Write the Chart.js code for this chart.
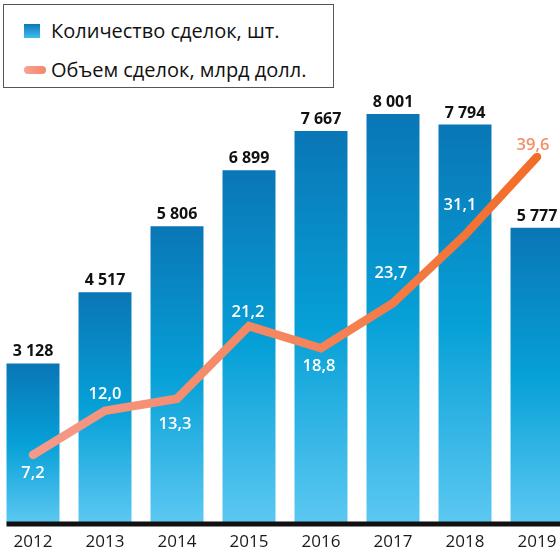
<!DOCTYPE html>
<html>
<head>
<meta charset="utf-8">
<script src="https://cdn.jsdelivr.net/npm/chart.js@4.4.1/dist/chart.umd.min.js"></script>
<style>
  html, body { margin: 0; padding: 0; background: #fff; }
  body { width: 560px; height: 552px; overflow: hidden; position: relative; font-family: "Open Sans", sans-serif; }
  #wrap { position: absolute; left: -3px; top: 0; width: 576px; height: 552px; }
  #legend { position: absolute; left: 3px; top: 4px; width: 329px; height: 82px;
            border: 1.5px solid #555; background: #fff; box-sizing: content-box; }
  .item { position: absolute; left: 0; font-size: 20px; color: #111; white-space: nowrap; }
  .item span { position: absolute; left: 47px; top: 0; line-height: 24px; }
  .sw-bar { position: absolute; left: 20px; top: 5px; width: 16px; height: 14px;
            background: linear-gradient(#0a78b8, #45bdf0); }
  .sw-line { position: absolute; left: 20px; top: 8px; width: 22px; height: 8px; border-radius: 4px;
             background: linear-gradient(90deg, #f7a293, #f4876a); }
</style>
</head>
<body>
<div id="wrap"><canvas id="chart" width="576" height="552"></canvas></div>
<div id="legend">
  <div class="item" style="top:14px"><div class="sw-bar"></div><span id="lg1"></span></div>
  <div class="item" style="top:53px"><div class="sw-line"></div><span id="lg2"></span></div>
</div>
<script>
const years = ['2012', '2013', '2014', '2015', '2016', '2017', '2018', '2019'];
const dealCounts = [3128, 4517, 5806, 6899, 7667, 8001, 7794, 5777];
const dealVolumes = [7.2, 12.0, 13.3, 21.2, 18.8, 23.7, 31.1, 39.6];
const countLabel = 'Количество сделок, шт.';
const volumeLabel = 'Объем сделок, млрд долл.';

document.getElementById('lg1').textContent = countLabel;
document.getElementById('lg2').textContent = volumeLabel;

const FONT = '"Open Sans", sans-serif';
const fmtCount = n => String(n).replace(/\B(?=(\d{3})+(?!\d))/g, ' ');
const fmtVol = v => v.toFixed(1).replace('.', ',');

// label placement for the line values (px from the point, + is down)
const volLabelDy = [23, -12, 30, -9, 23, -25, -25, -7];
const volLabelDx = [0, 0, -2, -1, -2, -2, -5, -4];

const barGradient = ctx => {
  const chart = ctx.chart;
  const area = chart.chartArea;
  if (!area || ctx.type !== 'data') return '#0a8cc8';
  const top = chart.scales.y.getPixelForValue(ctx.raw);
  const g = chart.ctx.createLinearGradient(0, top, 0, area.bottom);
  g.addColorStop(0, '#0a76b6');
  g.addColorStop(0.5, '#06a0d7');
  g.addColorStop(1, '#5cc8f2');
  return g;
};

const lineGradient = ctx => {
  const chart = ctx.chart;
  const area = chart.chartArea;
  if (!area) return '#f4875e';
  const g = chart.ctx.createLinearGradient(area.left + 30, 0, area.right - 40, 0);
  g.addColorStop(0, '#f59a8b');
  g.addColorStop(0.55, '#f5845a');
  g.addColorStop(1, '#f26d28');
  return g;
};

const labelsPlugin = {
  id: 'valueLabels',
  afterDatasetsDraw(chart) {
    const c = chart.ctx;
    const bars = chart.getDatasetMeta(1).data;
    const pts = chart.getDatasetMeta(0).data;

    // x axis line
    c.save();
    c.strokeStyle = '#111';
    c.lineWidth = 5;
    c.beginPath();
    c.moveTo(bars[0].x - bars[0].width / 2, chart.chartArea.bottom + 0.5);
    c.lineTo(chart.width, chart.chartArea.bottom + 0.5);
    c.stroke();

    c.textAlign = 'center';
    c.textBaseline = 'alphabetic';
    c.fillStyle = '#111';
    c.font = 'bold 16px ' + FONT;
    bars.forEach((b, i) => c.fillText(fmtCount(dealCounts[i]), b.x, b.y - 7));

    c.font = '600 16.5px ' + FONT;
    pts.forEach((p, i) => {
      c.fillStyle = i === pts.length - 1 ? '#f58d66' : '#fff';
      c.fillText(fmtVol(dealVolumes[i]), p.x + volLabelDx[i], p.y + volLabelDy[i]);
    });
    c.restore();
  }
};

new Chart(document.getElementById('chart'), {
  data: {
    labels: years,
    datasets: [
      {
        type: 'line',
        label: volumeLabel,
        data: dealVolumes,
        yAxisID: 'y2',
        order: 0,
        borderColor: lineGradient,
        borderWidth: 8.5,
        borderCapStyle: 'round',
        borderJoinStyle: 'miter',
        pointRadius: 0,
        tension: 0,
        fill: false
      },
      {
        type: 'bar',
        label: countLabel,
        data: dealCounts,
        yAxisID: 'y',
        order: 1,
        backgroundColor: barGradient,
        borderWidth: 0,
        categoryPercentage: 1,
        barPercentage: 0.736
      }
    ]
  },
  options: {
    responsive: false,
    animation: false,
    devicePixelRatio: 1,
    layout: { padding: 0 },
    plugins: { legend: { display: false }, tooltip: { enabled: false } },
    scales: {
      x: {
        grid: { display: false, drawTicks: false },
        border: { display: false },
        ticks: { color: '#1a1a1a', padding: 8, font: { family: FONT, size: 17 } },
        afterFit: scale => { scale.height = 28.5; }
      },
      y: { display: false, min: 0, max: 10227 },
      y2: { display: false, min: -0.26, max: 56.66 }
    }
  },
  plugins: [labelsPlugin]
});
</script>
</body>
</html>
